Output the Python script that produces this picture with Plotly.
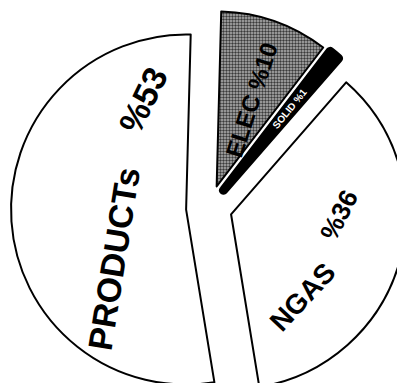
import plotly.graph_objects as go

# Energy consumption shares (percent), listed clockwise from 12 o'clock
sources = ["ELEC", "SOLID", "NGAS", "PRODUCTs"]
shares = [10, 1, 36, 53]
share_labels = ["%10", "%1", "%36", "%53"]

# Canvas is larger than the viewport so the exploded pie bleeds off the edges
W, H = 420, 420


def paper(x, y):
    """Convert a pixel position (from top-left) to paper coordinates."""
    return x / W, 1 - y / H


fills = ["#9c9c9c", "#000000", "#ffffff", "#ffffff"]
outline_widths = [2, 9, 2, 2]

fig = go.Figure(
    go.Pie(
        labels=sources,
        values=shares,
        sort=False,
        direction="clockwise",
        rotation=1.5,
        pull=[0.131] * len(shares),
        textinfo="none",
        hoverinfo="label+percent",
        showlegend=False,
        marker=dict(
            colors=fills,
            line=dict(color="#000000", width=outline_widths),
            pattern=dict(
                shape=[".", "", "", ""],
                fgcolor="#3a3a3a",
                bgcolor="#b4b4b4",
                size=3,
                solidity=0.5,
            ),
        ),
        domain=dict(x=[11 / W, 407 / W], y=[14 / H, 410 / H]),
    )
)

font_black = dict(family="Liberation Sans, Arial, sans-serif", color="#000000", weight="bold")
font_white = dict(family="Liberation Sans, Arial, sans-serif", color="#ffffff", weight="bold")

# (text, pixel x, pixel y, angle, size, font)
label_specs = [
    (sources[3], 114, 258, -81, 34, font_black),
    (share_labels[3], 143, 100, -64, 34, font_black),
    (sources[2], 302, 297, -47, 28, font_black),
    (share_labels[2], 339, 215, -63, 26, font_black),
    (sources[0] + " " + share_labels[0], 251, 100, -72, 24, font_black),
    (sources[1] + " " + share_labels[1], 290, 109, -51, 10, font_white),
]

for text, x, y, ang, size, fnt in label_specs:
    ax, ay = paper(x, y)
    fig.add_annotation(
        text=text,
        x=ax,
        y=ay,
        xref="paper",
        yref="paper",
        xanchor="center",
        yanchor="middle",
        textangle=ang,
        showarrow=False,
        font=dict(size=size, **fnt),
    )

fig.update_layout(
    width=W,
    height=H,
    margin=dict(l=0, r=0, t=0, b=0),
    paper_bgcolor="#ffffff",
    plot_bgcolor="#ffffff",
)

fig.write_html(
    "out.html",
    post_script="document.body.style.margin='0';document.body.style.overflow='hidden';",
)
